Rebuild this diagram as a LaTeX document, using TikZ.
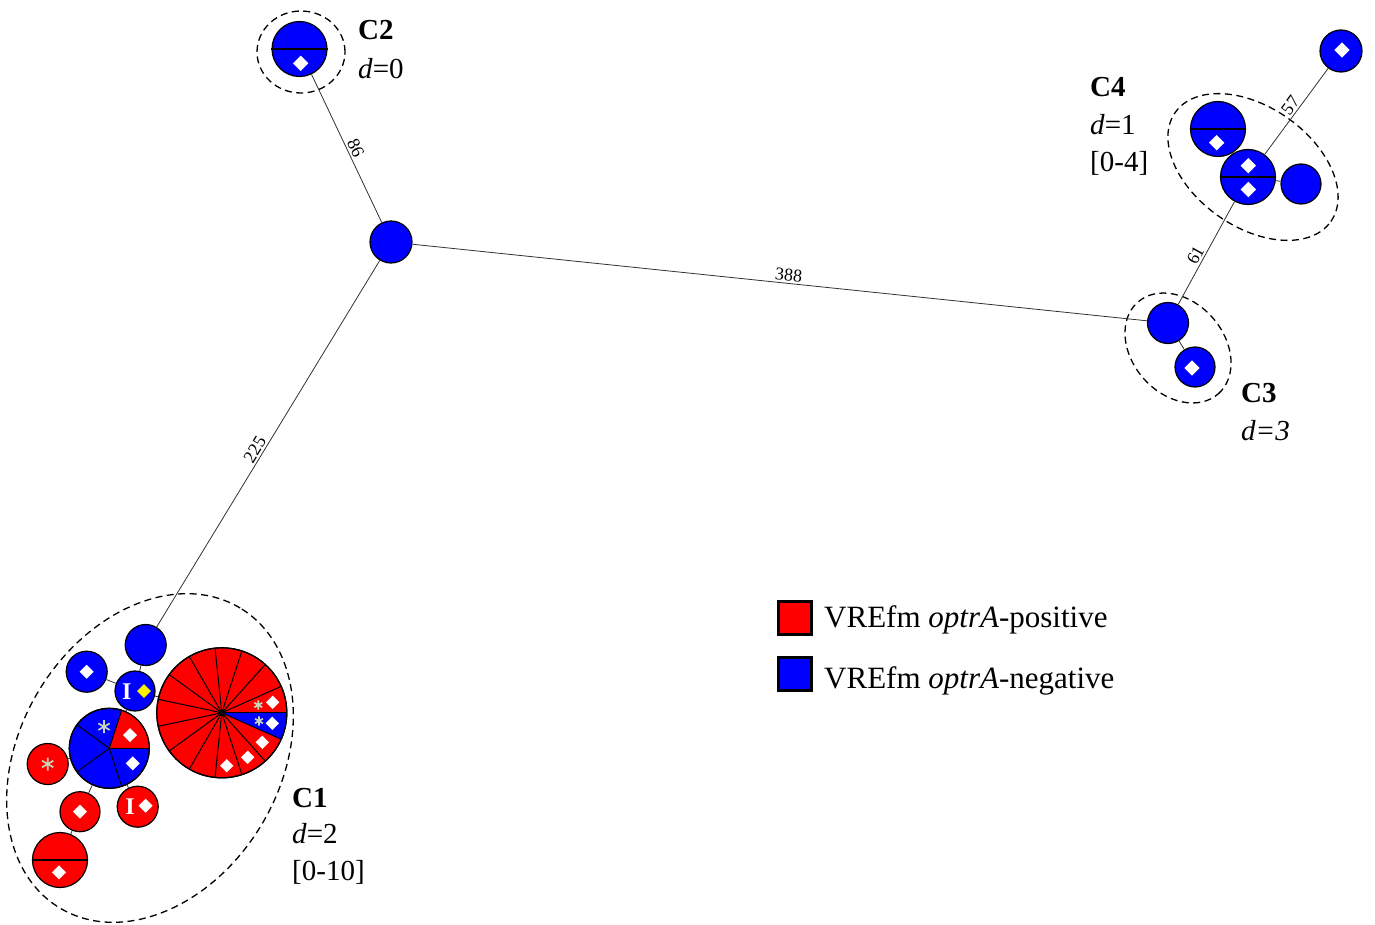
\documentclass[tikz,border=0pt]{standalone}
\usepackage{fontspec}
\setmainfont{Liberation Serif}
\usetikzlibrary{calc}
\definecolor{pr}{RGB}{255,0,0}
\definecolor{pb}{RGB}{0,0,255}
\definecolor{astc}{RGB}{200,214,186}
\definecolor{edgec}{RGB}{50,50,50}
\tikzset{
  pics/dmd/.style={code={\fill[white] (-7,0) -- (0,-7) -- (7,0) -- (0,7) -- cycle;}},
  pics/ydmd/.style={code={\filldraw[fill=yellow, draw=black!60, line width=0.3pt] (-7,0) -- (0,-7) -- (7,0) -- (0,7) -- cycle;}},
  pics/ast/.style={code={\draw[astc, line width=1.7pt] (90:6.5) -- (270:6.5) (30:6.5) -- (210:6.5) (150:6.5) -- (330:6.5);}},
}
\begin{document}
\begin{tikzpicture}[x=1pt,y=-1pt,
  nd/.style={circle, draw=black, line width=1.2pt, inner sep=0pt, minimum size=#1},
  rn/.style={nd=#1, fill=pr}, bn/.style={nd=#1, fill=pb},
  edge/.style={draw=edgec, line width=0.8pt},
  elab/.style={font=\fontsize{18}{18}\selectfont, sloped, above, inner sep=2pt, text=black},
  clu/.style={draw=black, line width=1.3pt, dash pattern=on 7pt off 4.5pt},
  cl/.style={anchor=base west, inner sep=0pt, font=\fontsize{29}{29}\selectfont},
  leg/.style={anchor=base west, inner sep=0pt, font=\fontsize{31}{31}\selectfont},
  lsq/.style={draw=black, line width=3pt, minimum width=33pt, minimum height=33pt, inner sep=0pt},
  il/.style={inner sep=0pt, text=white, font=\fontsize{24}{24}\selectfont\bfseries},
  spl/.style={draw=black, line width=1.5pt}
]
\fill[white] (0,0) rectangle (1375,925);
\useasboundingbox (0,0) rectangle (1375,925);

% cluster outlines
\draw[clu] (301,52) ellipse [x radius=44pt, y radius=41pt];
\begin{scope}[shift={(1178,348)}, rotate=-48.7]
  \draw[clu] (0,0) ellipse [x radius=61pt, y radius=46pt];
\end{scope}
\begin{scope}[shift={(1253,167)}, rotate=-35]
  \draw[clu] (0,0) ellipse [x radius=95pt, y radius=60pt];
\end{scope}
\begin{scope}[shift={(150,758)}, rotate=59]
  \draw[clu] (0,0) ellipse [x radius=175pt, y radius=130pt];
\end{scope}

% nodes
\node[bn=42pt] (ctr) at (391,242) {};
\node[bn=55pt] (c2) at (299.5,49) {};
\node[bn=41pt] (c3a) at (1168,323) {};
\node[bn=40pt] (c3b) at (1195,367) {};
\node[bn=55pt] (c4ul) at (1218,129) {};
\node[bn=55pt] (c4m) at (1248,177) {};
\node[bn=40pt] (c4r) at (1301,184) {};
\node[bn=42pt] (c4tr) at (1341,51) {};
\node[bn=41pt] (c1top) at (145.7,645) {};
\node[bn=41pt] (bD) at (86.7,671.7) {};
\node[bn=40pt] (iN) at (135,691) {};
\node[bn=80pt] (p2) at (109.3,748.3) {};
\node[rn=41pt] (rS) at (47.7,764) {};
\node[rn=40pt] (rD) at (80,811.7) {};
\node[rn=41pt] (rI) at (137.7,806.7) {};
\node[rn=55pt] (rSp) at (60,860) {};
\node[rn=130pt] (bp) at (221.8,712.8) {};

% edges
\draw[edge] (c2) -- node[elab, pos=0.52] (l86) {86} (ctr);
\draw[edge] (c1top) -- node[elab, pos=0.472] (l225) {225} (ctr);
\draw[edge] (ctr) -- node[elab, pos=0.511] (l388) {388} (c3a);
\draw[edge] (c3a) -- (c3b);
\draw[edge] (c3a) -- node[elab, pos=0.44] (l61) {61} (c4m);
\draw[edge] (c4m) -- node[elab, pos=0.51] (l57) {57} (c4tr);
\draw[edge] (c4m) -- (c4r);
\draw[edge] (c4ul) -- (c4m);
\draw[edge] (c1top) -- (iN);
\draw[edge] (bD) -- (iN);
\draw[edge] (iN) -- (bp);
\draw[edge] (iN) -- (p2);
\draw[edge] (p2) -- (rS);
\draw[edge] (p2) -- (rD);
\draw[edge] (p2) -- (rI);
\draw[edge] (rD) -- (rSp);

% split nodes
\draw[spl] (c2.west) -- (c2.east);
\draw[spl] (c4ul.west) -- (c4ul.east);
\draw[spl] (c4m.west) -- (c4m.east);
\draw[spl] (rSp.west) -- (rSp.east);

% big pie
\begin{scope}
  \clip (bp.center) circle [radius=65];
  \fill[pb] (bp.center) -- +(0:200) -- +(24:200) -- cycle;
\end{scope}
\foreach \a in {0,24,...,336} \draw[line width=1pt] (bp.center) -- +(\a:65);
\draw[line width=1.2pt] (bp.center) circle [radius=65];
\fill[black] (bp.center) circle [radius=3.5];

% pie 2
\begin{scope}
  \clip (p2.center) circle [radius=40];
  \fill[pr] (p2.center) -- +(288:200) -- +(324:200) -- +(360:200) -- cycle;
\end{scope}
\foreach \a in {0,72,...,288} \draw[line width=1pt] (p2.center) -- +(\a:40);
\draw[line width=1.2pt] (p2.center) circle [radius=40];

% diamonds
\pic[scale=1.1] at (300.7,63.3) {dmd};
\pic[scale=1.1] at (1192,368) {dmd};
\pic[scale=1.1] at (1216.7,142.7) {dmd};
\pic[scale=1.1] at (1248.3,165.7) {dmd};
\pic[scale=1.1] at (1248.3,189.5) {dmd};
\pic[scale=1.1] at (1342,50) {dmd};
\pic at (86.7,671.7) {dmd};
\pic at (80,811.7) {dmd};
\pic at (59,872.3) {dmd};
\pic at (145.7,805.7) {dmd};
\pic at (130,735) {dmd};
\pic at (132.7,763.3) {dmd};
\pic[scale=0.95] at (272.3,723.3) {dmd};
\pic[scale=0.95] at (272.7,702.3) {dmd};
\pic[scale=0.95] at (262.3,742.3) {dmd};
\pic[scale=0.95] at (247.7,757.3) {dmd};
\pic[scale=0.95] at (226.7,765.7) {dmd};
\pic at (144,691) {ydmd};

% asterisks
\pic at (47.7,764) {ast};
\pic at (104,726.7) {ast};
\pic[scale=0.7] at (259,721) {ast};
\pic[scale=0.7] at (258.3,705) {ast};

% I letters
\node[il] (iA) at (126.7,691.5) {I};
\node[il] (iB) at (130,806.5) {I};

% cluster labels
\node[cl] (c1a) at (292,807) {\textbf{C1}};
\node[cl] (c1b) at (292,843) {\textit{d}=2};
\node[cl] (c1c) at (292,880) {[0-10]};
\node[cl] (c2a) at (358,40) {\textbf{C2}};
\node[cl] (c2b) at (358,79) {\textit{d}=0};
\node[cl] (c3l) at (1241,402) {\textbf{C3}};
\node[cl] (c3m) at (1241,440) {\textit{d=3}};
\node[cl] (c4a) at (1090,97) {\textbf{C4}};
\node[cl] (c4b) at (1090,135) {\textit{d}=1};
\node[cl] (c4c) at (1090,172) {[0-4]};

% legend
\node[lsq, fill=pr] (lr) at (795,617.5) {};
\node[lsq, fill=pb] (lb) at (795,674) {};
\node[leg] (lrt) at (824,627) {VREfm \textit{optrA}-positive};
\node[leg] (lbt) at (824,688) {VREfm \textit{optrA}-negative};
\end{tikzpicture}
\end{document}
